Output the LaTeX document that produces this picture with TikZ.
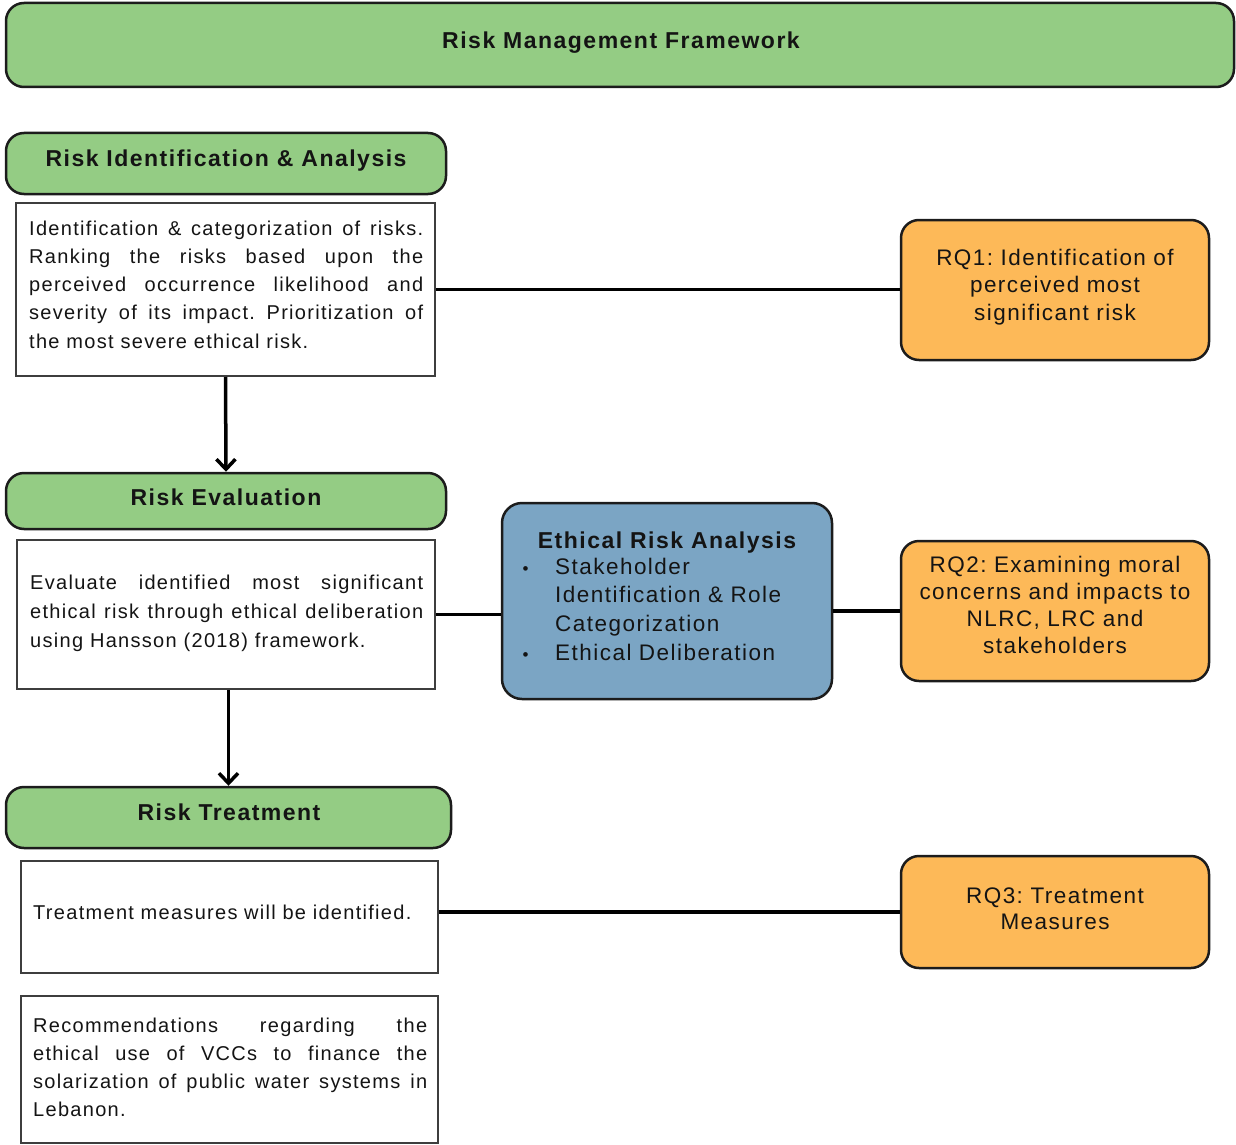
\documentclass[tikz,border=0pt]{standalone}
\usepackage{fontspec}
\setmainfont{Liberation Sans}
\newfontfamily\bodyfont[LetterSpace=6.5]{Liberation Sans}
\newfontfamily\headfont[LetterSpace=6.5]{Liberation Sans}
\usetikzlibrary{arrows.meta}

\definecolor{framegreen}{RGB}{148,204,132}
\definecolor{rqorange}{RGB}{253,185,88}
\definecolor{ethblue}{RGB}{123,165,196}
\definecolor{edge}{RGB}{28,28,28}
\definecolor{ink}{RGB}{20,20,20}

\tikzset{
  greenbar/.style={draw=edge, line width=2.5pt, fill=framegreen, rounded corners=18pt, inner sep=0pt},
  whitebox/.style={draw=edge!85, line width=2pt, fill=white, inner sep=0pt},
  rqbox/.style={draw=edge, line width=2.5pt, fill=rqorange, rounded corners=18pt, inner sep=0pt},
  ethbox/.style={draw=edge, line width=2.5pt, fill=ethblue, rounded corners=20pt, inner sep=0pt},
  headtext/.style={font=\headfont\bfseries\fontsize{23}{27}\selectfont, text=ink, inner sep=0pt, anchor=base},
  bodytext/.style={font=\bodyfont\fontsize{20}{28.3}\selectfont, text=ink, inner sep=0pt,
    anchor=base west, align=justify, text width=394pt},
  rqtext/.style={font=\bodyfont\fontsize{22.5}{27.5}\selectfont, text=ink, inner sep=0pt,
    anchor=base, align=center, text width=300pt},
  bullet/.style={font=\fontsize{17}{17}\selectfont, text=ink, inner sep=0pt, anchor=base west},
  link/.style={line width=3.5pt, draw=black},
  flow/.style={line width=3.5pt, draw=black, -{Straight Barb[length=10pt,width=19pt,line width=3.5pt]}}
}

\begin{document}
\frenchspacing
\begin{tikzpicture}[x=1pt,y=-1pt]
\useasboundingbox (0,0) rectangle (1236,1145);

% title bar
\node[greenbar, minimum width=1228pt, minimum height=84pt] (frame) at (620,45) {};
\node[headtext] (frametext) at (621,49) {Risk Management Framework};

% stage 1: identification and analysis
\node[greenbar, minimum width=440pt, minimum height=61pt] (idhead) at (226,163.5) {};
\node[headtext] (idheadtext) at (226,166) {Risk Identification \& Analysis};
\node[whitebox, minimum width=419pt, minimum height=173pt] (idbox) at (225.5,289.5) {};
\node[bodytext] (idtext) at (29,235) {\hyphenpenalty=10000
  Identification \& categorization of risks.\linebreak
  Ranking the risks based upon the\linebreak
  perceived occurrence likelihood and\linebreak
  severity of its impact. Prioritization of\linebreak
  the most severe ethical risk.};

% stage 2: evaluation
\node[greenbar, minimum width=440pt, minimum height=56pt] (evhead) at (226,501) {};
\node[headtext] (evheadtext) at (226,505) {Risk Evaluation};
\node[whitebox, minimum width=418pt, minimum height=149pt] (evbox) at (226,614.5) {};
\node[bodytext, text width=393pt, font=\bodyfont\fontsize{20}{29}\selectfont] (evtext) at (30,589) {\hyphenpenalty=10000
  Evaluate identified most significant\linebreak
  ethical risk through ethical deliberation\linebreak
  using Hansson (2018) framework.};

% ethical risk analysis
\node[ethbox, minimum width=330pt, minimum height=196pt] (eth) at (667,601) {};
\node[headtext] (ethtitle) at (667,548) {Ethical Risk Analysis};
\node[rqtext, anchor=base west, align=left, text width=270pt,
      font=\bodyfont\fontsize{22.5}{28.7}\selectfont] (ethlist) at (555,574)
  {Stakeholder\\
   Identification \& Role\\
   Categorization\\
   Ethical Deliberation};
\node[bullet] (bulletone) at (522.5,574) {\textbullet};
\node[bullet] (bullettwo) at (522.5,660) {\textbullet};

% stage 3: treatment
\node[greenbar, minimum width=445pt, minimum height=61pt] (trhead) at (228.5,817.5) {};
\node[headtext] (trheadtext) at (229,820) {Risk Treatment};
\node[whitebox, minimum width=417pt, minimum height=112pt] (trbox) at (229.5,917) {};
\node[bodytext, align=left] (trtext) at (33,919) {Treatment measures will be identified.};
\node[whitebox, minimum width=417pt, minimum height=147pt] (recbox) at (229.5,1069.5) {};
\node[bodytext, font=\bodyfont\fontsize{20}{28}\selectfont] (rectext) at (33,1032) {\hyphenpenalty=10000
  Recommendations regarding the\linebreak
  ethical use of VCCs to finance the\linebreak
  solarization of public water systems in\linebreak
  Lebanon.};

% research questions
\node[rqbox, minimum width=308pt, minimum height=140pt] (rq1) at (1055,290) {};
\node[rqtext] (rq1text) at (1055,265) {RQ1: Identification of\\perceived most\\significant risk};
\node[rqbox, minimum width=308pt, minimum height=140pt] (rq2) at (1055,611) {};
\node[rqtext, font=\bodyfont\fontsize{22.5}{27}\selectfont] (rq2text) at (1055,572)
  {RQ2: Examining moral\\concerns and impacts to\\NLRC, LRC and\\stakeholders};
\node[rqbox, minimum width=308pt, minimum height=112pt] (rq3) at (1055,912) {};
\node[rqtext, font=\bodyfont\fontsize{22.5}{26.5}\selectfont] (rq3text) at (1055,903) {RQ3: Treatment\\Measures};

% connectors
\draw[link] (idbox.east) -- (idbox.east -| rq1.west);
\draw[link] (evbox.east) -- (evbox.east -| eth.west);
\draw[link] (rq2.west -| eth.east) -- (rq2.west);
\draw[link] (rq3.west -| trbox.east) -- (rq3.west);
\draw[flow] (idbox.south) -- (evhead.north);
\draw[flow] (trhead.north |- evbox.south) -- (trhead.north);
\end{tikzpicture}
\end{document}
